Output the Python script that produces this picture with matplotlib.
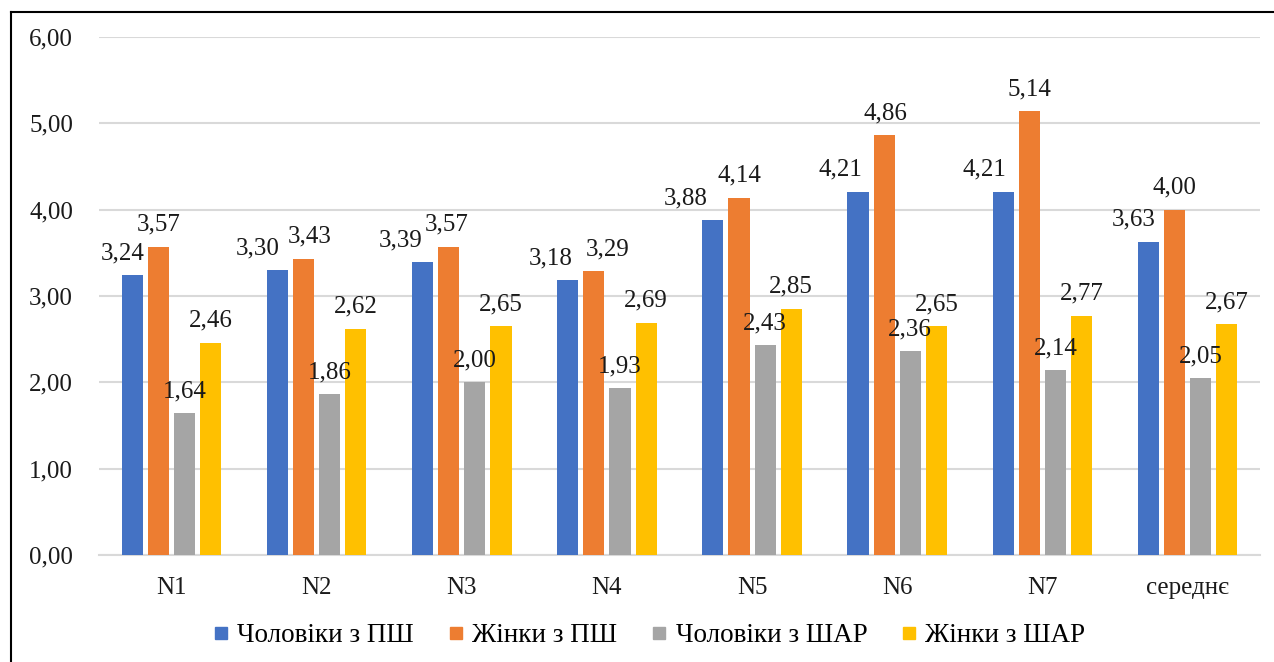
import numpy as np
import matplotlib
matplotlib.use("Agg")
import matplotlib.pyplot as plt
from matplotlib.lines import Line2D

plt.rcParams['font.family'] = ['Liberation Serif', 'DejaVu Serif']

categories = ["N1", "N2", "N3", "N4", "N5", "N6", "N7", "середнє"]
series_names = ["Чоловіки з ПШ", "Жінки з ПШ", "Чоловіки з ШАР", "Жінки з ШАР"]
men_psh = [3.24, 3.30, 3.39, 3.18, 3.88, 4.21, 4.21, 3.63]
women_psh = [3.57, 3.43, 3.57, 3.29, 4.14, 4.86, 5.14, 4.00]
men_shar = [1.64, 1.86, 2.00, 1.93, 2.43, 2.36, 2.14, 2.05]
women_shar = [2.46, 2.62, 2.65, 2.69, 2.85, 2.65, 2.77, 2.67]
yticks = [0, 1, 2, 3, 4, 5, 6]

colors = ["#4472C4", "#ED7D31", "#A5A5A5", "#FFC000"]
# horizontal nudges (pixels) that keep neighbouring value labels apart
label_shift = [
    [-10, -20, -22, -17, -27, -18, -19, -15],
    [0, 6, -2, 14, 0, 1, 0, 0],
    [0] * 8,
    [0] * 8,
]

W, H, DPI = 1274, 662, 100
fig = plt.figure(figsize=(W / DPI, H / DPI), dpi=DPI)
ax = fig.add_axes([99 / W, 1 - 555 / H, (1260 - 99) / W, (555 - 37) / H])

data = [men_psh, women_psh, men_shar, women_shar]
x = np.arange(len(categories))
pitch = 0.18
width = 0.145
px2pt = 72 / DPI
fs = 18

for k, (vals, col, name) in enumerate(zip(data, colors, series_names)):
    pos = x + (k - 1.5) * pitch
    ax.bar(pos, vals, width=width, color=col, label=name, zorder=3)
    for i, (xp, v) in enumerate(zip(pos, vals)):
        ax.annotate(f"{v:.2f}".replace(".", ","), (xp, v),
                    xytext=(label_shift[k][i] * px2pt, 16 * px2pt),
                    textcoords="offset points", ha="center", va="baseline",
                    fontsize=fs, color="#1a1a1a", zorder=4)

ax.set_xlim(-0.5, len(categories) - 0.5)
ax.set_ylim(0, 6)
ax.set_yticks(yticks)
ax.set_yticklabels([f"{t:.2f}".replace(".", ",") for t in yticks], fontsize=fs,
                   color="#1a1a1a")
ax.set_xticks(x)
ax.set_xticklabels(categories, fontsize=fs, color="#1a1a1a")
ax.tick_params(axis="both", length=0)
ax.tick_params(axis="y", pad=26 * px2pt)
ax.tick_params(axis="x", pad=16)
ax.grid(axis="y", color="#D9D9D9", linewidth=1.5, zorder=0)
for s in ["top", "right", "left"]:
    ax.spines[s].set_visible(False)
ax.spines["bottom"].set_color("#D9D9D9")
ax.spines["bottom"].set_linewidth(1.5)

handles = [Line2D([], [], marker="s", linestyle="none", markersize=9,
                  markerfacecolor=c, markeredgecolor=c) for c in colors]
fig.legend(handles, series_names, loc="center", ncol=4, frameon=False,
           bbox_to_anchor=(650 / W, 1 - 636 / H), fontsize=19.5,
           handlelength=0.5, handletextpad=0.35, columnspacing=1.3)

# outer frame: top and left edges
fig.add_artist(Line2D([11 / W, 1.0], [1 - 12 / H, 1 - 12 / H], color="black",
                      linewidth=1.5, transform=fig.transFigure))
fig.add_artist(Line2D([11 / W, 11 / W], [0, 1 - 12 / H], color="black",
                      linewidth=1.5, transform=fig.transFigure))

fig.savefig("out.png", dpi=DPI, facecolor="white")
